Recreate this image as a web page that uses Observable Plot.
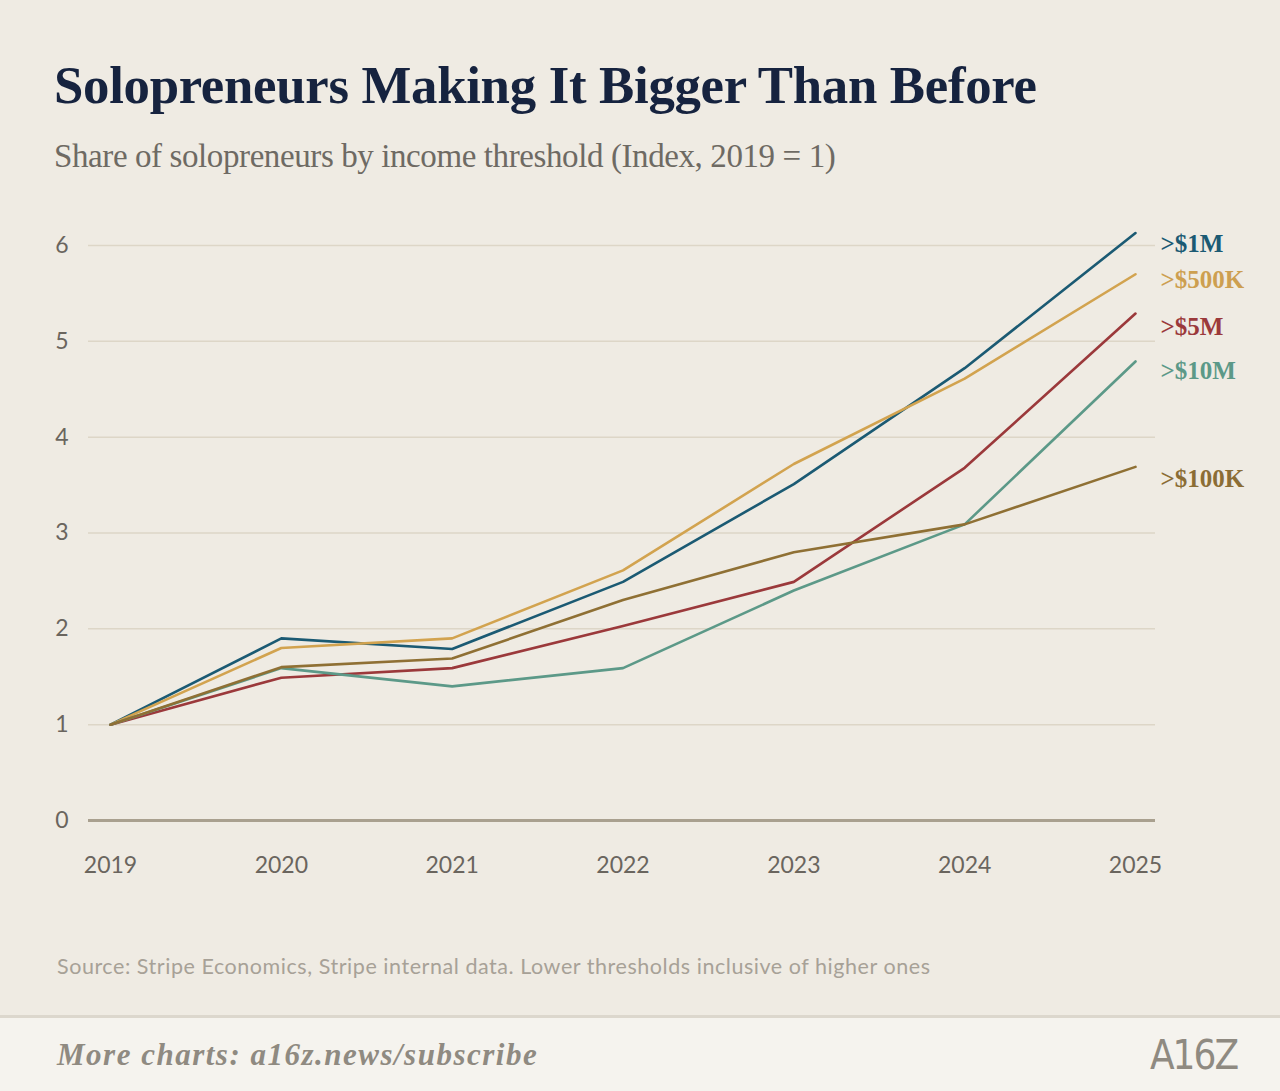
<!DOCTYPE html>
<html>
<head>
<meta charset="utf-8">
<script src="https://cdn.jsdelivr.net/npm/d3@7"></script>
<script src="https://cdn.jsdelivr.net/npm/@observablehq/plot@0.6"></script>
<style>
  html, body { margin: 0; padding: 0; }
  body { width: 1280px; height: 1091px; background: #efebe3; position: relative; overflow: hidden; }
  #title { position: absolute; left: 54px; top: 55px; font-family: "Liberation Serif", serif; font-weight: 700; font-size: 52.8px; color: #16233f; white-space: nowrap; letter-spacing: -0.3px; }
  #subtitle { position: absolute; left: 54px; top: 138px; font-family: "Liberation Serif", serif; font-weight: 400; font-size: 33px; color: #6e6a63; white-space: nowrap; letter-spacing: -0.4px; }
  #chart { position: absolute; left: 0; top: 190px; }
  #source { position: absolute; left: 57px; top: 953px; font-family: Lato, sans-serif; font-size: 21.5px; color: #a7a197; white-space: nowrap; letter-spacing: 0.55px; }
  #footer { position: absolute; left: 0; top: 1015px; width: 1280px; height: 76px; background: #f5f3ee; border-top: 3px solid #dcd7cd; }
  #more { position: absolute; left: 57px; top: 19px; font-family: "Liberation Serif", serif; font-style: italic; font-weight: 700; font-size: 31px; color: #8f8a81; white-space: nowrap; letter-spacing: 1.5px; }
  #logo { position: absolute; left: 1150px; top: 14px; font-family: "Liberation Sans Narrow", "DejaVu Sans Condensed", sans-serif; font-size: 40px; color: #8f8a81; letter-spacing: -2px; }
</style>
</head>
<body>
<div id="title">Solopreneurs Making It Bigger Than Before</div>
<div id="subtitle">Share of solopreneurs by income threshold (Index, 2019 = 1)</div>
<div id="chart"></div>
<div id="source">Source: Stripe Economics, Stripe internal data. Lower thresholds inclusive of higher ones</div>
<div id="footer">
  <div id="more">More charts: a16z.news/subscribe</div>
  <div id="logo">A16Z</div>
</div>
<script>
const years = [2019, 2020, 2021, 2022, 2023, 2024, 2025];
const series = [">$1M", ">$500K", ">$5M", ">$10M", ">$100K"];
const v1M   = [1, 1.90, 1.79, 2.49, 3.51, 4.72, 6.13];
const v500K = [1, 1.80, 1.90, 2.61, 3.72, 4.61, 5.70];
const v5M   = [1, 1.49, 1.59, 2.03, 2.49, 3.68, 5.29];
const v10M  = [1, 1.59, 1.40, 1.59, 2.40, 3.09, 4.79];
const v100K = [1, 1.60, 1.69, 2.30, 2.80, 3.09, 3.69];
const yTicks = [0, 1, 2, 3, 4, 5, 6];

const colors = {">$1M": "#1b5a73", ">$500K": "#d2a34f", ">$5M": "#9b393b", ">$10M": "#5c9988", ">$100K": "#8f7034"};
const labelColors = {">$1M": "#1b5a73", ">$500K": "#cd9f50", ">$5M": "#9b393b", ">$10M": "#5c9988", ">$100K": "#8b6d35"};
const labelDy = {">$1M": 11, ">$500K": 6, ">$5M": 13, ">$10M": 10, ">$100K": 12};

const valuesBySeries = {">$1M": v1M, ">$500K": v500K, ">$5M": v5M, ">$10M": v10M, ">$100K": v100K};
const rows = series.flatMap(s => years.map((yr, i) => ({series: s, year: yr, value: valuesBySeries[s][i]})));
const ends = rows.filter(d => d.year === 2025);

const plot = Plot.plot({
  width: 1280,
  height: 720,
  marginLeft: 110,
  marginRight: 145,
  marginTop: 55,
  marginBottom: 90,
  style: {background: "transparent", fontFamily: "Lato, sans-serif", overflow: "visible"},
  x: {domain: [2019, 2025], label: null},
  y: {domain: [0, 6], label: null},
  marks: [
    Plot.ruleY(yTicks.filter(d => d > 0), {stroke: "#ddd6c7", strokeWidth: 1.5, insetLeft: -22, insetRight: -20}),
    Plot.ruleY([0], {stroke: "#a9a08f", strokeWidth: 3, insetLeft: -22, insetRight: -20}),
    Plot.axisY(yTicks, {tickSize: 0, tickPadding: 42, fontSize: 23, fill: "#6a655e", textAnchor: "end", label: null, tickFormat: d => String(d)}),
    Plot.axisX(years, {tickSize: 0, tickPadding: 36, fontSize: 23, fill: "#6a655e", label: null, tickFormat: d => String(d)}),
    Plot.lineY(rows, {x: "year", y: "value", z: "series", stroke: d => colors[d.series], strokeWidth: 2.6}),
    ...ends.map(d => Plot.text([d], {x: "year", y: "value", text: "series", textAnchor: "start", dx: 25, dy: labelDy[d.series], fill: labelColors[d.series], fontSize: 25, fontWeight: 700, fontFamily: "Liberation Serif, serif"}))
  ]
});
document.getElementById("chart").appendChild(plot);
</script>
</body>
</html>
